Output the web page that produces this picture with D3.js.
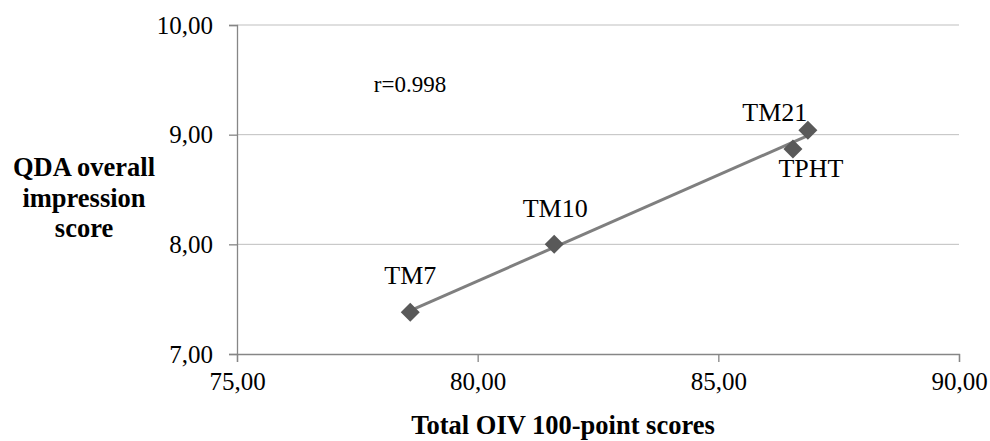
<html>
<head>
<style>
body { margin: 0; background: #fff; }
svg text { font-family: "Liberation Serif", "Times New Roman", serif; fill: #000; }
.tick text { font-size: 25px; }
.ttl { font-size: 26.5px; font-weight: bold; }
.lbl { font-size: 26px; text-anchor: middle; }
</style>
<script src="https://d3js.org/d3.v7.min.js"></script>
</head>
<body>
<svg width="990" height="441"></svg>
<script>
// data
var samples = ["TM7", "TM10", "TPHT", "TM21"];
var oivScores = [78.60, 81.59, 86.55, 86.86];
var qdaScores = [7.38, 8.00, 8.87, 9.04];
var xTicks = [75, 80, 85, 90];
var yTicks = [7, 8, 9, 10];
var corrText = "r=0.998";

var svg = d3.select("svg");
var pLeft = 237, pRight = 959, pTop = 25, pBottom = 354;

var x = d3.scaleLinear().domain([75, 90]).range([pLeft, pRight]);
var y = d3.scaleLinear().domain([7, 10]).range([pBottom, pTop]);
var fmt = function(v) { return d3.format(".2f")(v).replace(".", ","); };

// gridlines
svg.append("g").selectAll("line")
   .data(yTicks.slice(1))
   .enter().append("line")
   .attr("x1", pLeft).attr("x2", pRight)
   .attr("y1", function(d) { return y(d); })
   .attr("y2", function(d) { return y(d); })
   .attr("stroke", "#bfbfbf").attr("stroke-width", 1);

var xAxis = svg.append("g")
   .attr("transform", "translate(0," + pBottom + ")")
   .call(d3.axisBottom(x).tickValues(xTicks).tickFormat(fmt).tickSize(8).tickPadding(7));
var yAxis = svg.append("g")
   .attr("transform", "translate(" + pLeft + ",0)")
   .call(d3.axisLeft(y).tickValues(yTicks).tickFormat(fmt).tickSize(8).tickPadding(16));
[xAxis, yAxis].forEach(function(a) {
  a.select(".domain").attr("stroke", "#868686").attr("stroke-width", 1.3);
  a.selectAll(".tick line").attr("stroke", "#868686").attr("stroke-width", 1.3);
  a.selectAll(".tick text").style("font-family", "Liberation Serif").attr("fill", "#000");
});
xAxis.selectAll(".tick text").attr("dy", "0.85em");

// least squares trend line
var n = oivScores.length;
var mx = d3.mean(oivScores), my = d3.mean(qdaScores);
var sxy = 0, sxx = 0;
for (var i = 0; i < n; i++) {
  sxy += (oivScores[i] - mx) * (qdaScores[i] - my);
  sxx += (oivScores[i] - mx) * (oivScores[i] - mx);
}
var slope = sxy / sxx, icpt = my - slope * mx;
var xr = d3.extent(oivScores);
svg.append("line")
   .attr("x1", x(xr[0])).attr("y1", y(icpt + slope * xr[0]))
   .attr("x2", x(xr[1])).attr("y2", y(icpt + slope * xr[1]))
   .attr("stroke", "#7f7f7f").attr("stroke-width", 3);

// markers
var pts = samples.map(function(s, i) { return {name: s, x: oivScores[i], y: qdaScores[i]}; });
svg.append("g").selectAll("path")
   .data(pts)
   .enter().append("path")
   .attr("d", "M0,-9.5L9.5,0L0,9.5L-9.5,0Z")
   .attr("transform", function(d) { return "translate(" + x(d.x) + "," + y(d.y) + ")"; })
   .attr("fill", "#595959");

// point labels
var offs = {"TM7": [0, -28], "TM10": [1, -27], "TM21": [-33, -9], "TPHT": [18, 28]};
svg.append("g").selectAll("text")
   .data(pts)
   .enter().append("text")
   .attr("class", "lbl")
   .attr("x", function(d) { return x(d.x) + offs[d.name][0]; })
   .attr("y", function(d) { return y(d.y) + offs[d.name][1]; })
   .text(function(d) { return d.name; });

svg.append("text").attr("class", "lbl").attr("x", 410).attr("y", 92)
   .style("font-size", "23px").text(corrText);

// axis titles
svg.append("text").attr("class", "ttl").attr("x", 563).attr("y", 434)
   .attr("text-anchor", "middle").text("Total OIV 100-point scores");
var yt = svg.append("text").attr("class", "ttl").attr("text-anchor", "middle");
["QDA overall", "impression", "score"].forEach(function(s, i) {
  yt.append("tspan").attr("x", 84).attr("y", 176 + i * 30.5).text(s);
});
</script>
</body>
</html>
